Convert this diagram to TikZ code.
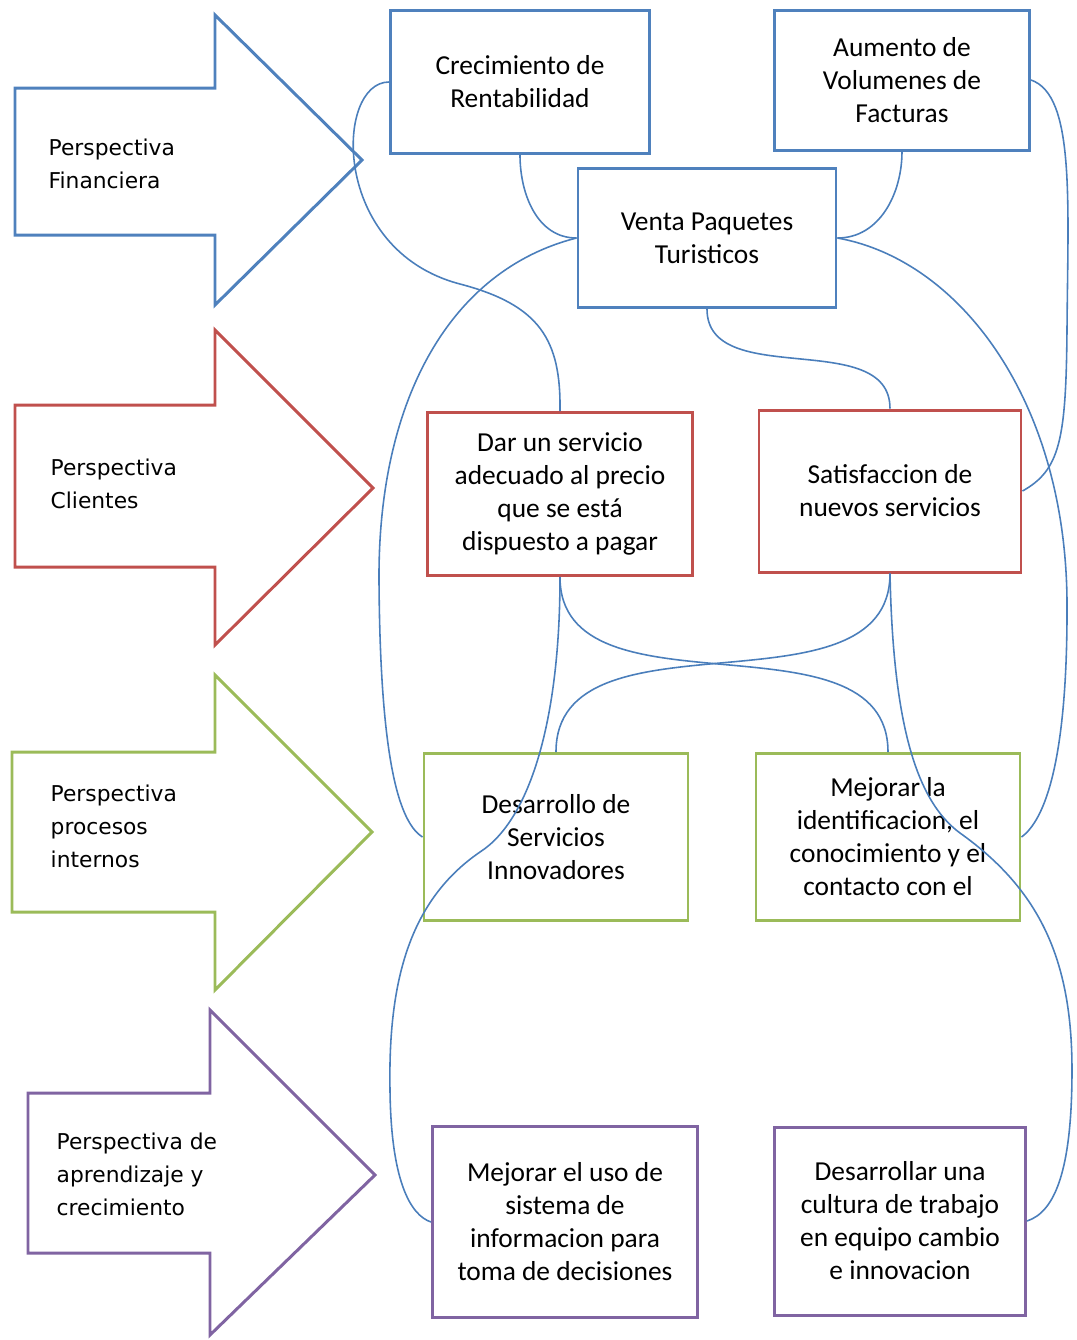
\documentclass[tikz,border=0pt]{standalone}
\usepackage{fontspec}
\setmainfont{Carlito}
\newfontfamily\flechafont{DejaVu Sans}
\usepackage{tikz}

\definecolor{azul}{HTML}{4F81BD}
\definecolor{rojo}{HTML}{C0504D}
\definecolor{verde}{HTML}{9BBB59}
\definecolor{morado}{HTML}{8064A2}
\definecolor{linea}{HTML}{4A7EBB}

\begin{document}
\begin{tikzpicture}[x=0.1mm,y=-0.1mm]
        \useasboundingbox (0,0) rectangle (1077,1340);

        \begin{scope}[line width=0.85pt]
          \draw[azul]   (15,88) -- (215,88) -- (215,15) -- (362,160) -- (215,305) -- (215,235) -- (15,235) -- cycle;
          \draw[rojo]   (15,405) -- (215,405) -- (215,330) -- (373,488) -- (215,645) -- (215,567) -- (15,567) -- cycle;
          \draw[verde]  (12,752) -- (215,752) -- (215,675) -- (372,832) -- (215,990) -- (215,912) -- (12,912) -- cycle;
          \draw[morado] (28,1093) -- (210,1093) -- (210,1010) -- (375,1175) -- (210,1335) -- (210,1253) -- (28,1253) -- cycle;
        \end{scope}

        \begin{scope}[every node/.style={anchor=west, align=left, inner sep=0pt,
            font=\flechafont\fontsize{6.2}{9.4}\selectfont}]
          \node (pf) at (48,164)  {Perspectiva\\Financiera};
          \node (pc) at (50,484)  {Perspectiva\\Clientes};
          \node (pp) at (50,826)  {Perspectiva\\procesos\\internos};
          \node (pa) at (56,1174) {Perspectiva de\\aprendizaje y\\crecimiento};
        \end{scope}

        \begin{scope}[every node/.style={draw, line width=0.85pt, align=center, inner sep=0pt,
            font=\fontsize{7.8}{9.4}\selectfont}]
          \node[draw=azul, minimum width=25.9mm, minimum height=14.3mm] (f1) at (520,82)  {Crecimiento de\\Rentabilidad};
          \node[draw=azul, minimum width=25.5mm, minimum height=14.0mm] (f2) at (902,80)  {Aumento de\\Volumenes de\\Facturas};
          \node[draw=azul, minimum width=25.8mm, minimum height=13.9mm] (f3) at (707,238) {Venta Paquetes\\Turisticos};
          \node[draw=rojo, minimum width=26.5mm, minimum height=16.3mm] (c1) at (560,494) {Dar un servicio\\adecuado al precio\\que se está\\dispuesto a pagar};
          \node[draw=rojo, minimum width=26.2mm, minimum height=16.2mm] (c2) at (890,491) {Satisfaccion de\\nuevos servicios};
          \node[draw=verde, minimum width=26.4mm, minimum height=16.7mm] (p1) at (556,837) {Desarrollo de\\Servicios\\Innovadores};
          \node[draw=verde, minimum width=26.4mm, minimum height=16.7mm] (p2) at (888,837) {Mejorar la\\identificacion, el\\conocimiento y el\\contacto con el};
          \node[draw=morado, minimum width=26.5mm, minimum height=19.1mm] (a1) at (565,1222) {Mejorar el uso de\\sistema de\\informacion para\\toma de decisiones};
          \node[draw=morado, minimum width=25.1mm, minimum height=18.8mm] (a2) at (900,1221) {Desarrollar una\\cultura de trabajo\\en equipo cambio\\e innovacion};
        \end{scope}

        \begin{scope}[linea, line width=0.45pt]
          \begin{scope}[every edge/.style={draw}]
            \path (f1.south) edge[out=-90,in=180] (f3.west);
            \path (f2.south) edge[out=-90,in=0] (f3.east);
            \path (f3.south) edge[out=-90,in=90] (c2.north);
            \path (c1.south) edge[out=-90,in=90] (p2.north);
            \path (c2.south) edge[out=-90,in=90] (p1.north);
          \end{scope}
          \draw (f1.west) .. controls (335,82) and (330,250) .. (460,284) .. controls (540,305) and (561,340) .. (c1.north);
          \draw (f3.west) .. controls (450,270) and (378,400) .. (379,580) .. controls (380,740) and (395,820) .. (p1.west);
          \draw (f3.east) .. controls (960,260) and (1065,400) .. (1067,600) .. controls (1068,760) and (1045,820) .. (p2.east);
          \draw (f2.east) .. controls (1075,95) and (1068,200) .. (1067,330) .. controls (1066,440) and (1060,470) .. (c2.east);
          \draw (c1.south) .. controls (560,720) and (530,820) .. (480,852) .. controls (410,900) and (388,980) .. (390,1090) .. controls (391,1180) and (410,1215) .. (a1.west);
          \draw (c2.south) .. controls (893,720) and (915,800) .. (960,833) .. controls (1040,890) and (1072,960) .. (1072,1070) .. controls (1072,1170) and (1055,1212) .. (a2.east);
        \end{scope}

      \end{tikzpicture}
\end{document}
